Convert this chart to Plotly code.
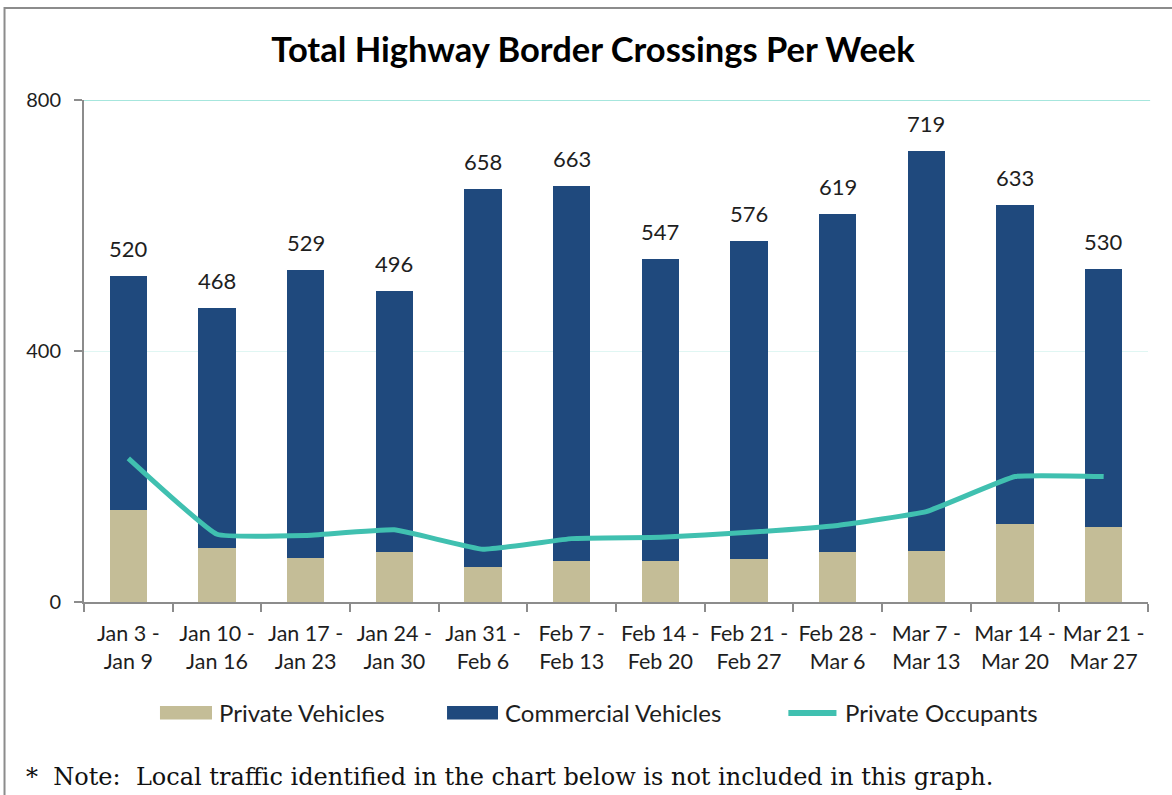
import plotly.graph_objects as go

weeks = ["Jan 3 -<br>Jan 9", "Jan 10 -<br>Jan 16", "Jan 17 -<br>Jan 23", "Jan 24 -<br>Jan 30",
         "Jan 31 -<br>Feb 6", "Feb 7 -<br>Feb 13", "Feb 14 -<br>Feb 20", "Feb 21 -<br>Feb 27",
         "Feb 28 -<br>Mar 6", "Mar 7 -<br>Mar 13", "Mar 14 -<br>Mar 20", "Mar 21 -<br>Mar 27"]
totals = [520, 468, 529, 496, 658, 663, 547, 576, 619, 719, 633, 530]
private_vehicles = [147, 86, 70, 80, 55, 66, 66, 68, 80, 82, 125, 119]
commercial_vehicles = [t - p for t, p in zip(totals, private_vehicles)]
private_occupants = [229, 108, 106, 115, 84, 101, 103, 111, 122, 144, 200, 200]
y_ticks = [0, 400, 800]
series_names = ["Private Vehicles", "Commercial Vehicles", "Private Occupants"]

BEIGE = "#c4bd97"
NAVY = "#1f497d"
TEAL = "#40c0b0"
FONT = "Lato"
TXT = "#1e1e1e"

fig = go.Figure()
fig.add_trace(go.Bar(x=weeks, y=private_vehicles, name=series_names[0],
                     marker=dict(color=BEIGE, line=dict(width=0))))
fig.add_trace(go.Bar(x=weeks, y=commercial_vehicles, name=series_names[1],
                     marker=dict(color=NAVY, line=dict(width=0))))
fig.add_trace(go.Scatter(x=weeks, y=private_occupants, name=series_names[2],
                         mode="lines", line=dict(color=TEAL, width=5, shape="spline", smoothing=0.3)))

for w, t in zip(weeks, totals):
    fig.add_annotation(x=w, y=t, text=str(t), showarrow=False, yanchor="bottom",
                       yshift=12, font=dict(family=FONT, size=22, color=TXT))

# outer frame (left and top edges visible)
fig.add_shape(type="rect", xref="paper", yref="paper", x0=-0.0747, x1=1.3, y0=-0.6, y1=1.1833,
              line=dict(color="#8c8c8c", width=2), layer="below")
# stronger top gridline
fig.add_shape(type="line", xref="paper", yref="y", x0=0, x1=1.002, y0=y_ticks[-1], y1=y_ticks[-1],
              line=dict(color="#a6e6dd", width=2), layer="below")

# legend drawn below the plot (wide swatches as in the original)
leg_y0, leg_y1, leg_mid = -0.2341, -0.2072, -0.2211
fig.add_shape(type="rect", xref="paper", yref="paper", x0=0.0714, x1=0.1203, y0=leg_y0, y1=leg_y1,
              line=dict(width=0), fillcolor=BEIGE)
fig.add_shape(type="rect", xref="paper", yref="paper", x0=0.3412, x1=0.3891, y0=leg_y0, y1=leg_y1,
              line=dict(width=0), fillcolor=NAVY)
fig.add_shape(type="line", xref="paper", yref="paper", x0=0.6620, x1=0.7072, y0=leg_mid, y1=leg_mid,
              line=dict(color=TEAL, width=6))
for name, xpos in zip(series_names, [0.1259, 0.3947, 0.7143]):
    fig.add_annotation(xref="paper", yref="paper", x=xpos, y=leg_mid, xanchor="left", yanchor="middle",
                       text=name, showarrow=False, borderpad=0,
                       font=dict(family=FONT, size=24, color=TXT))

fig.add_annotation(xref="paper", yref="paper", x=-0.0555, y=-0.3486, xanchor="left", yanchor="middle",
                   text="*  Note:  Local traffic identified in the chart below is not included in this graph.",
                   showarrow=False, borderpad=0,
                   font=dict(family="DejaVu Serif", size=24, color="#111111"))

fig.update_layout(
    width=1172, height=795,
    margin=dict(l=84, r=24, t=100, b=193, autoexpand=False),
    paper_bgcolor="white", plot_bgcolor="white",
    barmode="stack", bargap=0.58,
    title=dict(text="<b>Total Highway Border Crossings Per Week</b>", x=0.506, xanchor="center",
               y=0.937, yanchor="middle", font=dict(family=FONT, size=34.5, color="#000000")),
    font=dict(family=FONT, size=21, color=TXT),
    showlegend=False,
)
fig.update_xaxes(showline=True, linecolor="#8c8c8c", linewidth=2, ticks="outside",
                 tickson="boundaries", ticklen=8, tickcolor="#8c8c8c", tickwidth=2,
                 ticklabelstandoff=11, tickangle=0, automargin=False,
                 tickfont=dict(family=FONT, size=21.5, color=TXT), showgrid=False)
fig.update_yaxes(range=[0, 800], tickvals=y_ticks, showline=True, linecolor="#8c8c8c", linewidth=2,
                 ticks="outside", ticklen=8, tickcolor="#8c8c8c", tickwidth=2,
                 ticklabelstandoff=9, automargin=False,
                 gridcolor="#e0f6f3", gridwidth=1, zeroline=False,
                 tickfont=dict(family=FONT, size=20, color=TXT))

fig.write_html("out.html", config={"displayModeBar": False},
               post_script="document.body.style.margin='0';")
